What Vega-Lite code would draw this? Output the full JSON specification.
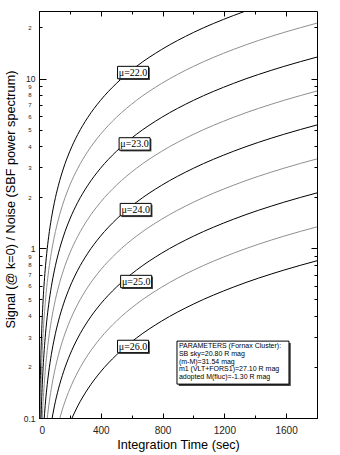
{
  "$schema": "https://vega.github.io/schema/vega-lite/v6.json",
  "width": 278,
  "height": 407,
  "autosize": {"type": "none"},
  "padding": {"left": 39, "top": 11, "right": 23, "bottom": 37},
  "background": "white",
  "config": {
    "view": {"stroke": "black", "strokeWidth": 1},
    "font": "Liberation Sans",
    "axis": {"domainColor": "black", "tickColor": "black", "grid": false, "labelColor": "#222", "titleColor": "black", "titleFontWeight": "normal", "labelFont": "Liberation Sans", "titleFont": "Liberation Sans"}
  },
  "datasets": {
    "curves": [
      {"mu":22,"t":5,"sn":0.0934},{"mu":22,"t":6.3,"sn":0.1177},{"mu":22,"t":8,"sn":0.1494},{"mu":22,"t":10,"sn":0.1868},{"mu":22,"t":12.6,"sn":0.2353},{"mu":22,"t":15.9,"sn":0.2970},{"mu":22,"t":20,"sn":0.3735},{"mu":22,"t":25,"sn":0.4669},{"mu":22,"t":32,"sn":0.5977},{"mu":22,"t":40,"sn":0.7471},{"mu":22,"t":50,"sn":0.9339},{"mu":22,"t":63,"sn":1.177},{"mu":22,"t":80,"sn":1.494},{"mu":22,"t":100,"sn":1.868},{"mu":22,"t":126,"sn":2.353},{"mu":22,"t":159,"sn":2.970},{"mu":22,"t":200,"sn":3.735},{"mu":22,"t":251,"sn":4.688},{"mu":22,"t":316,"sn":5.902},{"mu":22,"t":398,"sn":7.433},{"mu":22,"t":501,"sn":9.357},{"mu":22,"t":631,"sn":11.79},{"mu":22,"t":794,"sn":14.83},{"mu":22,"t":1000,"sn":18.68},{"mu":22,"t":1259,"sn":23.51},{"mu":22,"t":1585,"sn":29.60},
      {"mu":22.5,"t":8,"sn":0.0943},{"mu":22.5,"t":10,"sn":0.1179},{"mu":22.5,"t":12.6,"sn":0.1485},{"mu":22.5,"t":15.9,"sn":0.1874},{"mu":22.5,"t":20,"sn":0.2357},{"mu":22.5,"t":25,"sn":0.2946},{"mu":22.5,"t":32,"sn":0.3771},{"mu":22.5,"t":40,"sn":0.4714},{"mu":22.5,"t":50,"sn":0.5893},{"mu":22.5,"t":63,"sn":0.7425},{"mu":22.5,"t":80,"sn":0.9428},{"mu":22.5,"t":100,"sn":1.179},{"mu":22.5,"t":126,"sn":1.485},{"mu":22.5,"t":159,"sn":1.874},{"mu":22.5,"t":200,"sn":2.357},{"mu":22.5,"t":251,"sn":2.958},{"mu":22.5,"t":316,"sn":3.724},{"mu":22.5,"t":398,"sn":4.690},{"mu":22.5,"t":501,"sn":5.904},{"mu":22.5,"t":631,"sn":7.436},{"mu":22.5,"t":794,"sn":9.357},{"mu":22.5,"t":1000,"sn":11.79},{"mu":22.5,"t":1259,"sn":14.84},{"mu":22.5,"t":1585,"sn":18.68},{"mu":22.5,"t":1800,"sn":21.21},
      {"mu":23,"t":12.6,"sn":0.0937},{"mu":23,"t":15.9,"sn":0.1182},{"mu":23,"t":20,"sn":0.1487},{"mu":23,"t":25,"sn":0.1859},{"mu":23,"t":32,"sn":0.2379},{"mu":23,"t":40,"sn":0.2974},{"mu":23,"t":50,"sn":0.3718},{"mu":23,"t":63,"sn":0.4684},{"mu":23,"t":80,"sn":0.5948},{"mu":23,"t":100,"sn":0.7435},{"mu":23,"t":126,"sn":0.9368},{"mu":23,"t":159,"sn":1.182},{"mu":23,"t":200,"sn":1.487},{"mu":23,"t":251,"sn":1.866},{"mu":23,"t":316,"sn":2.349},{"mu":23,"t":398,"sn":2.959},{"mu":23,"t":501,"sn":3.725},{"mu":23,"t":631,"sn":4.691},{"mu":23,"t":794,"sn":5.903},{"mu":23,"t":1000,"sn":7.435},{"mu":23,"t":1259,"sn":9.361},{"mu":23,"t":1585,"sn":11.78},{"mu":23,"t":1800,"sn":13.38},
      {"mu":23.5,"t":20,"sn":0.0938},{"mu":23.5,"t":25,"sn":0.1173},{"mu":23.5,"t":32,"sn":0.1501},{"mu":23.5,"t":40,"sn":0.1876},{"mu":23.5,"t":50,"sn":0.2346},{"mu":23.5,"t":63,"sn":0.2955},{"mu":23.5,"t":80,"sn":0.3753},{"mu":23.5,"t":100,"sn":0.4691},{"mu":23.5,"t":126,"sn":0.5911},{"mu":23.5,"t":159,"sn":0.7459},{"mu":23.5,"t":200,"sn":0.9382},{"mu":23.5,"t":251,"sn":1.177},{"mu":23.5,"t":316,"sn":1.482},{"mu":23.5,"t":398,"sn":1.867},{"mu":23.5,"t":501,"sn":2.350},{"mu":23.5,"t":631,"sn":2.960},{"mu":23.5,"t":794,"sn":3.725},{"mu":23.5,"t":1000,"sn":4.691},{"mu":23.5,"t":1259,"sn":5.906},{"mu":23.5,"t":1585,"sn":7.435},{"mu":23.5,"t":1800,"sn":8.444},
      {"mu":24,"t":32,"sn":0.0947},{"mu":24,"t":40,"sn":0.1184},{"mu":24,"t":50,"sn":0.1480},{"mu":24,"t":63,"sn":0.1865},{"mu":24,"t":80,"sn":0.2368},{"mu":24,"t":100,"sn":0.2960},{"mu":24,"t":126,"sn":0.3730},{"mu":24,"t":159,"sn":0.4706},{"mu":24,"t":200,"sn":0.5920},{"mu":24,"t":251,"sn":0.7430},{"mu":24,"t":316,"sn":0.9354},{"mu":24,"t":398,"sn":1.178},{"mu":24,"t":501,"sn":1.483},{"mu":24,"t":631,"sn":1.868},{"mu":24,"t":794,"sn":2.350},{"mu":24,"t":1000,"sn":2.960},{"mu":24,"t":1259,"sn":3.727},{"mu":24,"t":1585,"sn":4.692},{"mu":24,"t":1800,"sn":5.328},
      {"mu":24.5,"t":50,"sn":0.0934},{"mu":24.5,"t":63,"sn":0.1177},{"mu":24.5,"t":80,"sn":0.1494},{"mu":24.5,"t":100,"sn":0.1868},{"mu":24.5,"t":126,"sn":0.2354},{"mu":24.5,"t":159,"sn":0.2970},{"mu":24.5,"t":200,"sn":0.3736},{"mu":24.5,"t":251,"sn":0.4689},{"mu":24.5,"t":316,"sn":0.5903},{"mu":24.5,"t":398,"sn":0.7435},{"mu":24.5,"t":501,"sn":0.9359},{"mu":24.5,"t":631,"sn":1.179},{"mu":24.5,"t":794,"sn":1.483},{"mu":24.5,"t":1000,"sn":1.868},{"mu":24.5,"t":1259,"sn":2.352},{"mu":24.5,"t":1585,"sn":2.961},{"mu":24.5,"t":1800,"sn":3.362},
      {"mu":25,"t":80,"sn":0.0942},{"mu":25,"t":100,"sn":0.1178},{"mu":25,"t":126,"sn":0.1484},{"mu":25,"t":159,"sn":0.1873},{"mu":25,"t":200,"sn":0.2356},{"mu":25,"t":251,"sn":0.2957},{"mu":25,"t":316,"sn":0.3722},{"mu":25,"t":398,"sn":0.4688},{"mu":25,"t":501,"sn":0.5902},{"mu":25,"t":631,"sn":0.7433},{"mu":25,"t":794,"sn":0.9353},{"mu":25,"t":1000,"sn":1.178},{"mu":25,"t":1259,"sn":1.483},{"mu":25,"t":1585,"sn":1.867},{"mu":25,"t":1800,"sn":2.120},
      {"mu":25.5,"t":126,"sn":0.0936},{"mu":25.5,"t":159,"sn":0.1181},{"mu":25.5,"t":200,"sn":0.1486},{"mu":25.5,"t":251,"sn":0.1865},{"mu":25.5,"t":316,"sn":0.2348},{"mu":25.5,"t":398,"sn":0.2957},{"mu":25.5,"t":501,"sn":0.3722},{"mu":25.5,"t":631,"sn":0.4688},{"mu":25.5,"t":794,"sn":0.5899},{"mu":25.5,"t":1000,"sn":0.7430},{"mu":25.5,"t":1259,"sn":0.9354},{"mu":25.5,"t":1585,"sn":1.178},{"mu":25.5,"t":1800,"sn":1.337},
      {"mu":26,"t":200,"sn":0.0938},{"mu":26,"t":251,"sn":0.1177},{"mu":26,"t":316,"sn":0.1482},{"mu":26,"t":398,"sn":0.1867},{"mu":26,"t":501,"sn":0.2350},{"mu":26,"t":631,"sn":0.2959},{"mu":26,"t":794,"sn":0.3724},{"mu":26,"t":1000,"sn":0.4690},{"mu":26,"t":1259,"sn":0.5905},{"mu":26,"t":1585,"sn":0.7434},{"mu":26,"t":1800,"sn":0.8442}
    ],
    "labels": [
      {"lab":"μ=22.0","t":609,"sn":10.85},
      {"lab":"μ=23.0","t":619,"sn":4.12},
      {"lab":"μ=24.0","t":626,"sn":1.69},
      {"lab":"μ=25.0","t":629,"sn":0.637},
      {"lab":"μ=26.0","t":609,"sn":0.264}
    ],
    "pbox": [{"t":1256,"sn":0.212}],
    "ptext": [
      {"line":0,"txt":"PARAMETERS (Fornax Cluster):","t":906,"sn":0.2642},
      {"line":1,"txt":"SB sky=20.80 R mag","t":906,"sn":0.2379},
      {"line":2,"txt":"(m-M)=31.54 mag","t":906,"sn":0.2144},
      {"line":3,"txt":"m1 (VLT+FORS1)=27.10 R mag","t":906,"sn":0.1932},
      {"line":4,"txt":"adopted M(fluc)=-1.30 R mag","t":906,"sn":0.1740}
    ]
  },
  "layer": [
    {
      "data": {"name": "curves"},
      "mark": {"type": "line", "clip": true, "strokeWidth": 1, "interpolate": "monotone"},
      "encoding": {
        "x": {"field": "t", "type": "quantitative", "scale": {"domain": [0, 1800], "nice": false, "zero": false},
          "axis": {"orient": "bottom", "values": [0,200,400,600,800,1000,1200,1400,1600],
            "labelExpr": "datum.value % 400 === 0 ? datum.label : ''", "format": "d",
            "tickSize": {"condition": {"test": "datum.value % 400 === 0", "value": -5}, "value": -3},
            "labelPadding": 12, "labelFontSize": 10, "title": "Integration Time (sec)", "titleFontSize": 12.7, "titlePadding": 3}},
        "y": {"field": "sn", "type": "quantitative", "scale": {"type": "log", "domain": [0.1, 25], "nice": false},
          "axis": {"orient": "left", "values": [0.1,0.2,0.3,0.4,0.5,0.6,0.7,0.8,0.9,1,2,3,4,5,6,7,8,9,10,20],
            "labelExpr": "datum.value == 0.1 ? '0.1' : datum.value == 1 ? '1' : datum.value == 10 ? '10' : (datum.value < 1 ? format(datum.value*10, '.0f') : datum.value < 10 ? format(datum.value, '.0f') : format(datum.value/10, '.0f'))",
            "tickSize": {"condition": {"test": "datum.value == 0.1 || datum.value == 1 || datum.value == 10", "value": -7}, "value": -3},
            "labelFontSize": {"condition": {"test": "datum.value == 0.1 || datum.value == 1 || datum.value == 10", "value": 8.5}, "value": 6},
            "labelPadding": 11, "labelOverlap": false, "labelBound": false, "labelFlush": false,
            "title": "Signal (@ k=0) / Noise (SBF power spectrum)", "titleFontSize": 12.7, "titlePadding": 6, "titleY": 188}},
        "detail": {"field": "mu", "type": "nominal"},
        "color": {"condition": {"test": "datum.mu % 1 === 0", "value": "black"}, "value": "#8f8f8f"}
      }
    },
    {
      "data": {"name": "labels"},
      "mark": {"type": "point", "shape": "M-1,-0.4L1,-0.4L1,0.4L-1,0.4Z", "size": 961, "filled": true, "fill": "#444", "stroke": null, "opacity": 1, "xOffset": 1.3, "yOffset": 1.3},
      "encoding": {
        "x": {"field": "t", "type": "quantitative", "scale": {"domain": [0, 1800], "nice": false, "zero": false},
          "axis": {"orient": "top", "values": [0,200,400,600,800,1000,1200,1400,1600], "labels": false, "title": null, "domain": false,
            "tickSize": {"condition": {"test": "datum.value % 400 === 0", "value": -5}, "value": -3}}},
        "y": {"field": "sn", "type": "quantitative", "scale": {"type": "log", "domain": [0.1, 25], "nice": false},
          "axis": {"orient": "right", "values": [0.1,0.2,0.3,0.4,0.5,0.6,0.7,0.8,0.9,1,2,3,4,5,6,7,8,9,10,20], "labels": false, "title": null, "domain": false,
            "tickSize": {"condition": {"test": "datum.value == 0.1 || datum.value == 1 || datum.value == 10", "value": -6}, "value": -3}}}
      }
    },
    {
      "data": {"name": "labels"},
      "mark": {"type": "point", "shape": "M-1,-0.4L1,-0.4L1,0.4L-1,0.4Z", "size": 961, "filled": true, "fill": "white", "stroke": "black", "strokeWidth": 1, "opacity": 1},
      "encoding": {
        "x": {"field": "t", "type": "quantitative", "axis": null},
        "y": {"field": "sn", "type": "quantitative", "axis": null}
      }
    },
    {
      "data": {"name": "labels"},
      "mark": {"type": "text", "font": "Liberation Serif", "fontSize": 10, "align": "center", "baseline": "middle", "fill": "black", "dy": 0.5},
      "encoding": {
        "x": {"field": "t", "type": "quantitative", "axis": null},
        "y": {"field": "sn", "type": "quantitative", "axis": null},
        "text": {"field": "lab"}
      }
    },
    {
      "data": {"name": "pbox"},
      "mark": {"type": "point", "shape": "M-1,-0.384L1,-0.384L1,0.384L-1,0.384Z", "size": 12544, "filled": true, "fill": "#444", "stroke": null, "opacity": 1, "xOffset": 1.8, "yOffset": 1.8},
      "encoding": {
        "x": {"field": "t", "type": "quantitative", "axis": null},
        "y": {"field": "sn", "type": "quantitative", "axis": null}
      }
    },
    {
      "data": {"name": "pbox"},
      "mark": {"type": "point", "shape": "M-1,-0.384L1,-0.384L1,0.384L-1,0.384Z", "size": 12544, "filled": true, "fill": "white", "stroke": "black", "strokeWidth": 1, "opacity": 1},
      "encoding": {
        "x": {"field": "t", "type": "quantitative", "axis": null},
        "y": {"field": "sn", "type": "quantitative", "axis": null}
      }
    },
    {
      "data": {"name": "ptext"},
      "mark": {"type": "text", "fontSize": 7, "align": "left", "baseline": "middle", "fill": "black"},
      "encoding": {
        "x": {"field": "t", "type": "quantitative", "axis": null},
        "y": {"field": "sn", "type": "quantitative", "axis": null},
        "text": {"field": "txt"},
        "fontWeight": {"condition": {"test": "datum.line === 0", "value": "bold"}, "value": "normal"}
      }
    }
  ],
  "resolve": {"axis": {"x": "independent", "y": "independent"}}
}
